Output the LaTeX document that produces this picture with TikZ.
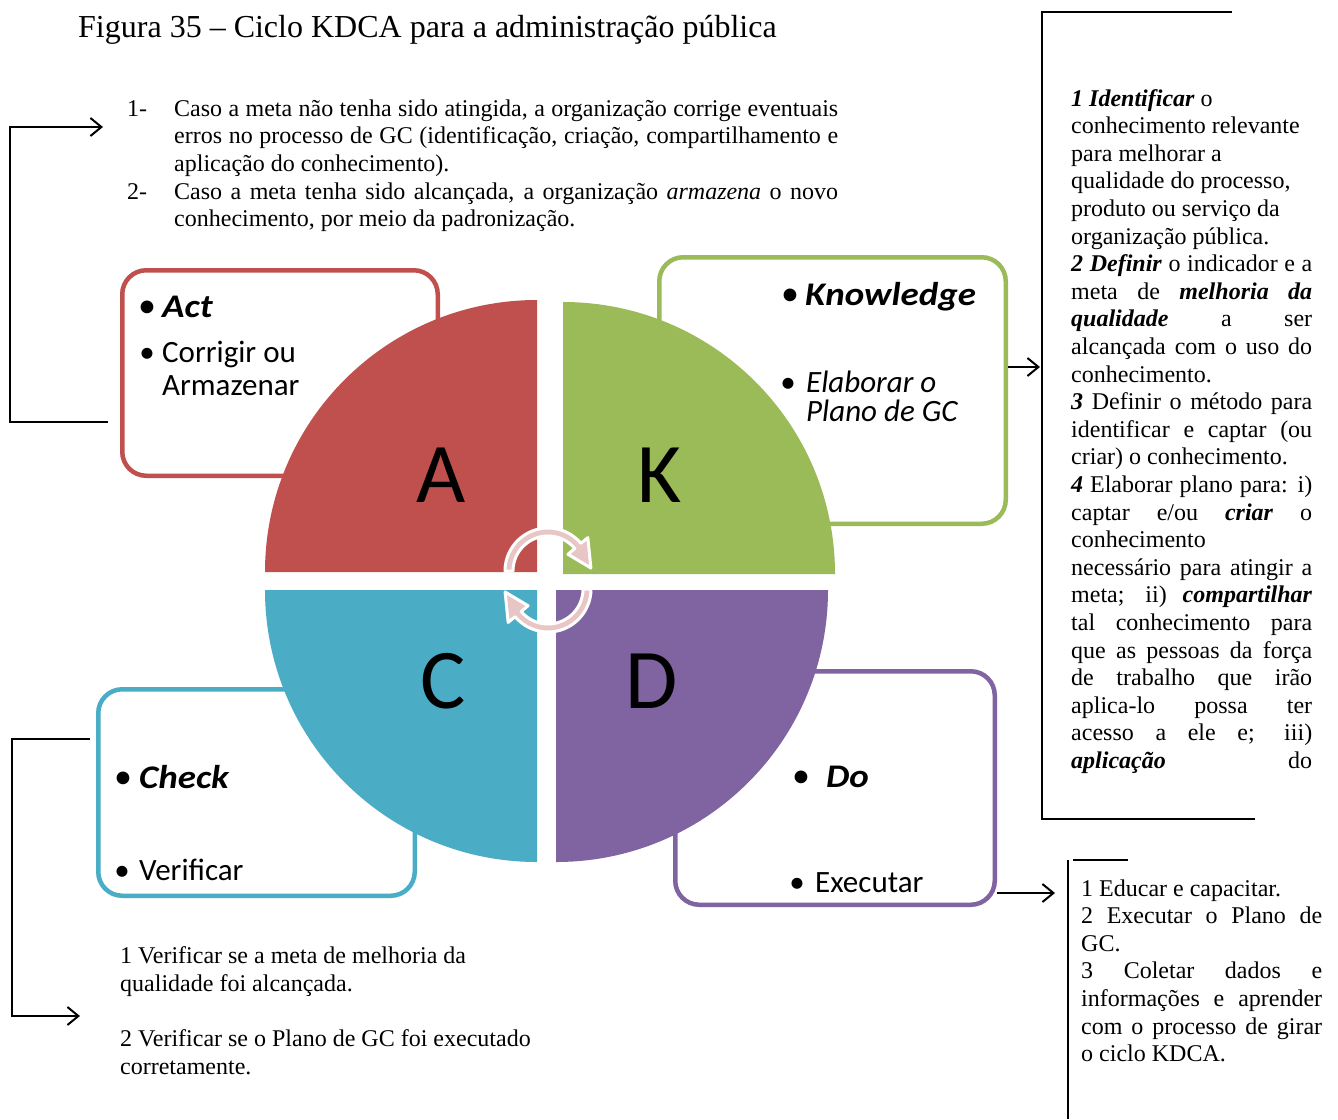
\documentclass[tikz,border=0pt]{standalone}
\usepackage{fontspec}
\setmainfont{Liberation Serif}
\newfontfamily\calfont{Carlito}
\newfontfamily\calhead[FakeStretch=1.12]{Carlito}
\usetikzlibrary{arrows.meta,calc}
\definecolor{actred}{HTML}{C0504D}
\definecolor{knowgreen}{HTML}{9BBB59}
\definecolor{checkblue}{HTML}{4BACC6}
\definecolor{dopurple}{HTML}{8064A2}
\definecolor{cyclepink}{RGB}{232,198,198}
% justified lines of the two text columns and of the top list
\newcommand\jl[1]{\makebox[241pt][s]{#1}}
\newcommand\jtop[1]{\makebox[664pt][s]{#1}}
\newcommand\bi[1]{\textbf{\textit{#1}}}

\begin{document}
\begin{tikzpicture}[x=1pt,y=1pt,
  body/.style={inner sep=0pt, anchor=base west, font=\fontsize{24}{27.6}\selectfont},
  stagebox/.style={draw=#1, fill=white, line width=4.5pt, rounded corners=24pt, inner sep=0pt},
  bigletter/.style={inner sep=0pt, anchor=base, font=\calfont\fontsize{85}{85}\selectfont},
  heading/.style={inner sep=0pt, anchor=base west, font=\calhead\fontsize{33}{33}\selectfont\bfseries\itshape},
  headbullet/.style={inner sep=0pt, anchor=base, font=\calfont\fontsize{36}{36}\selectfont},
  item/.style={inner sep=0pt, anchor=base west, font=\calfont\fontsize{31}{31}\selectfont},
  itembullet/.style={inner sep=0pt, anchor=base, font=\calfont\fontsize{31}{31}\selectfont},
  link/.style={line width=2pt, -{Straight Barb[length=11pt,width=18pt]}},
  frame/.style={line width=2pt},
  turn/.style={fill=cyclepink, draw=white, line width=3pt, line join=round},
]
\useasboundingbox (0,0) rectangle (1338,-1119);
\fill[white] (0,0) rectangle (1338,-1119);

% title
\node[inner sep=0pt, anchor=base west, font=\fontsize{32}{36}\selectfont] (title) at (78,-37)
  {Figura 35 – Ciclo KDCA para a administração pública};

% list above the cycle
\node[body] (n1) at (127,-116) {1-};
\node[body] (n2) at (127,-199) {2-};
\node[body] (top1) at (174,-116) {\jtop{Caso a meta não tenha sido atingida, a organização corrige eventuais}};
\node[body] (top2) at (174,-143.7) {\jtop{erros no processo de GC (identificação, criação, compartilhamento e}};
\node[body] (top3) at (174,-171.4) {aplicação do conhecimento).};
\node[body] (top4) at (174,-199) {\jtop{Caso a meta tenha sido alcançada, a organização \textit{armazena} o novo}};
\node[body] (top5) at (174,-226.8) {conhecimento, por meio da padronização.};

% stage boxes (behind the circle)
\node[stagebox=actred, minimum width=315.5pt, minimum height=205.5pt] (boxA) at (280,-373) {};
\node[stagebox=knowgreen, minimum width=346.5pt, minimum height=266.5pt] (boxK) at (832.5,-390.5) {};
\node[stagebox=checkblue, minimum width=316.5pt, minimum height=206.5pt] (boxC) at (256.5,-792.5) {};
\node[stagebox=dopurple, minimum width=319.5pt, minimum height=233.5pt] (boxD) at (835,-788) {};

% the four quarters of the cycle
\fill[actred] (537,-572) -- (265,-572) arc[start angle=180, end angle=90, radius=272] -- cycle;
\fill[knowgreen] (563,-574) -- (563,-302) arc[start angle=90, end angle=0, radius=272] -- cycle;
\fill[checkblue] (537,-590) -- (265,-590) arc[start angle=180, end angle=270, radius=272] -- cycle;
\fill[dopurple] (556,-590) -- (828,-590) arc[start angle=0, end angle=-90, radius=272] -- cycle;

\node[bigletter] (letA) at (441,-502) {A};
\node[bigletter] (letK) at (660,-502) {K};
\node[bigletter] (letC) at (443,-708) {C};
\node[bigletter] (letD) at (652,-708) {D};

% turning arrows at the centre
\begin{scope}[shift={(548,-571)}]
  \filldraw[turn] (180:43) arc[start angle=180, end angle=40, radius=43]
    -- (40:52) -- (4:43) -- (40:26) -- (40:35)
    arc[start angle=40, end angle=180, radius=35] -- cycle;
\end{scope}
\begin{scope}[shift={(548,-589)}]
  \filldraw[turn] (0:43) arc[start angle=0, end angle=-140, radius=43]
    -- (-140:52) -- (-176:43) -- (-140:26) -- (-140:35)
    arc[start angle=-140, end angle=0, radius=35] -- cycle;
\end{scope}

% box texts
\node[headbullet] (bA1) at (147,-317) {•};
\node[heading] (hA) at (162,-317) {Act};
\node[itembullet] (bA2) at (147,-362) {•};
\node[item] (iA1) at (162,-362) {Corrigir ou};
\node[item] (iA2) at (162,-395) {Armazenar};

\node[headbullet] (bK1) at (790,-305) {•};
\node[heading] (hK) at (805,-305) {Knowledge};
\node[itembullet] (bK2) at (788,-392) {•};
\node[item] (iK1) at (806,-392) {\itshape Elaborar o};
\node[item] (iK2) at (806,-421) {\itshape Plano de GC};

\node[headbullet] (bC1) at (123,-788) {•};
\node[heading] (hC) at (139,-788) {Check};
\node[itembullet] (bC2) at (122,-880) {•};
\node[item] (iC1) at (139,-880) {Verificar};

\node[headbullet] (bD1) at (801,-787) {•};
\node[heading] (hD) at (826,-787) {Do};
\node[itembullet] (bD2) at (797,-892) {•};
\node[item] (iD1) at (815,-892) {Executar};

% K column
\foreach \entry [count=\i from 0] in {
 {\bi{1 Identificar} o},
 {conhecimento relevante},
 {para melhorar a},
 {qualidade do processo,},
 {produto ou serviço da},
 {organização pública.},
 {\jl{\bi{2 Definir} o indicador e a}},
 {\jl{meta de \bi{melhoria da}}},
 {\jl{\bi{qualidade} a ser}},
 {\jl{alcançada com o uso do}},
 {conhecimento.},
 {\jl{\bi{3} Definir o método para}},
 {\jl{identificar e captar (ou}},
 {criar) o conhecimento.},
 {\jl{\bi{4} Elaborar plano para: i)}},
 {\jl{captar e/ou \bi{criar} o}},
 {conhecimento},
 {\jl{necessário para atingir a}},
 {\jl{meta; ii) \bi{compartilhar}}},
 {\jl{tal conhecimento para}},
 {\jl{que as pessoas da força}},
 {\jl{de trabalho que irão}},
 {\jl{aplica-lo possa ter}},
 {\jl{acesso a ele e; iii)}},
 {\jl{\bi{aplicação} do}}
}{\node[body] (know\i) at (1071,{-106-27.6*\i}) {\entry};}

% D column
\foreach \entry [count=\i from 0] in {
 {1 Educar e capacitar.},
 {\jl{2 Executar o Plano de}},
 {GC.},
 {\jl{3 Coletar dados e}},
 {\jl{informações e aprender}},
 {\jl{com o processo de girar}},
 {o ciclo KDCA.}
}{\node[body] (do\i) at (1081,{-896-27.6*\i}) {\entry};}

% C list
\node[body] (chk1) at (120,-963) {1 Verificar se a meta de melhoria da};
\node[body] (chk2) at (120,-991) {qualidade foi alcançada.};
\node[body] (chk3) at (120,-1046) {2 Verificar se o Plano de GC foi executado};
\node[body] (chk4) at (120,-1074) {corretamente.};

% frames round the text columns
\draw[frame] (1232,-12) -- (1042,-12) -- (1042,-819) -- (1255,-819);
\draw[frame] (1073,-860) -- (1128,-860);
\draw[frame] (1068,-860) -- (1068,-1119);

% links
\coordinate (actin) at (103,-127);
\coordinate (knowin) at (1040,-367);
\coordinate (doin) at (1055,-893);
\coordinate (chkin) at (80,-1016);
\draw[link] ($(boxA.west)+(-12,-49)$) -- ++(-98,0) |- (actin);
\draw[link] (boxK.east |- knowin) -- (knowin);
\draw[link] (boxD.east |- doin) -- (doin);
\draw[link] ($(boxC.west)+(-6,53.5)$) -- ++(-78,0) |- (chkin);
\end{tikzpicture}
\end{document}
